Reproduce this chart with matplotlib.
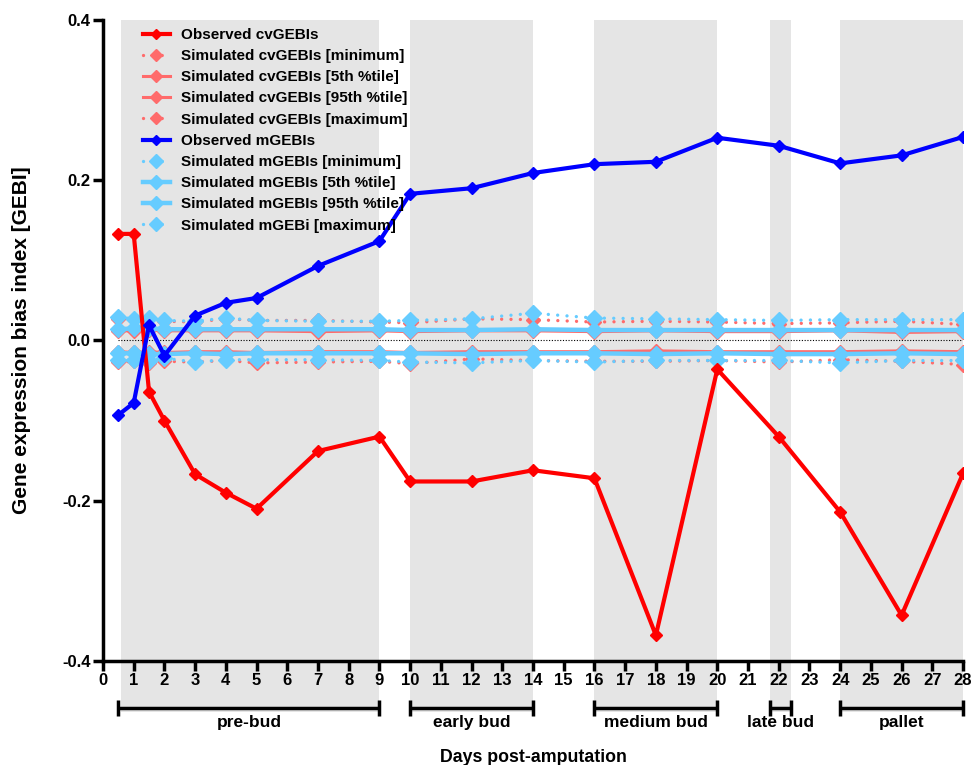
import matplotlib
matplotlib.use("Agg")
import matplotlib.pyplot as plt

plt.rcParams['font.family'] = ['Liberation Sans', 'DejaVu Sans']

days = [0.5, 1, 1.5, 2, 3, 4, 5, 7, 9, 10, 12, 14, 16, 18, 20, 22, 24, 26, 28]

obs_cv = [0.133, 0.133, -0.064, -0.100, -0.167, -0.190, -0.210, -0.138, -0.120,
          -0.176, -0.176, -0.162, -0.172, -0.368, -0.036, -0.120, -0.214, -0.343, -0.166]
cv_min = [-0.027, -0.026, -0.028, -0.026, -0.027, -0.025, -0.028, -0.027, -0.026,
          -0.029, -0.023, -0.025, -0.026, -0.026, -0.025, -0.027, -0.024, -0.026, -0.030]
cv_p5 = [-0.014, -0.015, -0.014, -0.015, -0.014, -0.014, -0.015, -0.014, -0.014,
         -0.015, -0.014, -0.014, -0.014, -0.013, -0.014, -0.014, -0.014, -0.013, -0.014]
cv_p95 = [0.012, 0.012, 0.013, 0.012, 0.012, 0.012, 0.012, 0.011, 0.012,
          0.011, 0.012, 0.012, 0.011, 0.012, 0.011, 0.011, 0.012, 0.010, 0.011]
cv_max = [0.027, 0.027, 0.028, 0.024, 0.023, 0.027, 0.025, 0.025, 0.023,
          0.022, 0.027, 0.026, 0.023, 0.024, 0.023, 0.021, 0.022, 0.024, 0.020]

obs_m = [-0.093, -0.078, 0.019, -0.019, 0.031, 0.047, 0.053, 0.093, 0.124,
         0.183, 0.190, 0.209, 0.220, 0.223, 0.253, 0.243, 0.221, 0.231, 0.254]
m_min = [-0.024, -0.025, -0.026, -0.022, -0.027, -0.024, -0.024, -0.024, -0.025,
         -0.027, -0.028, -0.025, -0.027, -0.025, -0.025, -0.025, -0.028, -0.025, -0.025]
m_p5 = [-0.016, -0.016, -0.017, -0.017, -0.016, -0.017, -0.016, -0.016, -0.016,
        -0.016, -0.017, -0.016, -0.016, -0.017, -0.016, -0.017, -0.017, -0.016, -0.017]
m_p95 = [0.014, 0.015, 0.015, 0.014, 0.014, 0.014, 0.014, 0.014, 0.014,
         0.013, 0.013, 0.014, 0.013, 0.013, 0.013, 0.013, 0.013, 0.013, 0.013]
m_max = [0.029, 0.027, 0.028, 0.025, 0.024, 0.028, 0.025, 0.024, 0.024,
         0.025, 0.027, 0.034, 0.028, 0.027, 0.026, 0.025, 0.026, 0.026, 0.026]

stages = ["pre-bud", "early bud", "medium bud", "late bud", "pallet"]
stage_start = [0.5, 10, 16, 21.7, 24]
stage_end = [9, 14, 20, 22.4, 28]
shade_start = [0.6, 10, 16, 21.7, 24]
shade_end = [9, 14, 20, 22.4, 28]

RED = "#FF0000"
LRED = "#FF6B6B"
BLUE = "#0000FF"
LBLUE = "#66CCFF"

fig = plt.figure(figsize=(9.77, 7.65), dpi=100)
ax = fig.add_axes([0.1054, 0.136, 0.8803, 0.8379])
ax.set_xlim(0, 28)
ax.set_ylim(-0.4, 0.4)

ybot = -0.464
for s, e in zip(shade_start, shade_end):
    ax.fill_between([s, e], [ybot, ybot], [0.4, 0.4], color="#E5E5E5",
                    lw=0, zorder=0, clip_on=False)

ax.plot([0.5, 28], [0, 0], color="black", lw=0.8, ls=(0, (1, 1.5)), zorder=1)

dot = (0, (0.01, 2.8))
def sim(y, color, ls, lw, ms, z):
    kw = dict(color=color, lw=lw, marker="D", ms=ms, mec=color, mfc=color, zorder=z)
    if ls == "dot":
        kw.update(ls=dot, dash_capstyle="round")
    else:
        kw.update(ls="-")
    l, = ax.plot(days, y, **kw)
    return l

h_obs_cv, = ax.plot(days, obs_cv, color=RED, lw=3, marker="D", ms=6, zorder=6)
h_cv_min = sim(cv_min, LRED, "dot", 2.4, 7, 2)
h_cv_p5 = sim(cv_p5, LRED, "-", 2.2, 7, 2)
h_cv_p95 = sim(cv_p95, LRED, "-", 2.2, 7, 2)
h_cv_max = sim(cv_max, LRED, "dot", 2.4, 7, 2)
h_obs_m, = ax.plot(days, obs_m, color=BLUE, lw=3, marker="D", ms=6, zorder=6)
h_m_min = sim(m_min, LBLUE, "dot", 2.4, 8, 3)
h_m_p5 = sim(m_p5, LBLUE, "-", 3.2, 8, 3)
h_m_p95 = sim(m_p95, LBLUE, "-", 3.2, 8, 3)
h_m_max = sim(m_max, LBLUE, "dot", 2.4, 8, 3)

labels = ["Observed cvGEBIs", "Simulated cvGEBIs [minimum]",
          "Simulated cvGEBIs [5th %tile]", "Simulated cvGEBIs [95th %tile]",
          "Simulated cvGEBIs [maximum]", "Observed mGEBIs",
          "Simulated mGEBIs [minimum]", "Simulated mGEBIs [5th %tile]",
          "Simulated mGEBIs [95th %tile]", "Simulated mGEBi [maximum]"]
hs = [h_obs_cv, h_cv_min, h_cv_p5, h_cv_p95, h_cv_max,
      h_obs_m, h_m_min, h_m_p5, h_m_p95, h_m_max]
leg = ax.legend(hs, labels, loc="upper left", bbox_to_anchor=(0.03, 1.009),
                frameon=False, handlelength=1.8, handletextpad=0.7,
                labelspacing=0.47, prop={"weight": "bold", "size": 11},
                markerscale=0.9)
leg.set_zorder(10)

for sp in ["top", "right"]:
    ax.spines[sp].set_visible(False)
for sp in ["left", "bottom"]:
    ax.spines[sp].set_linewidth(2.5)
    ax.spines[sp].set_zorder(8)

ax.set_yticks([-0.4, -0.2, 0.0, 0.2, 0.4])
ax.set_yticklabels(["-0.4", "-0.2", "0.0", "0.2", "0.4"])
ax.set_xticks(range(0, 29))
ax.tick_params(axis="both", direction="out", width=2.5, length=7,
               labelsize=12, pad=2)
for t in ax.get_xticklabels() + ax.get_yticklabels():
    t.set_fontweight("bold")

yb = -0.459
for name, s, e in zip(stages, stage_start, stage_end):
    ax.plot([s, e], [yb, yb], color="black", lw=2.5, clip_on=False,
            solid_capstyle="butt")
    for x in (s, e):
        ax.plot([x, x], [yb - 0.01, yb + 0.01], color="black", lw=2.5,
                clip_on=False, solid_capstyle="butt")
    ax.text((s + e) / 2, yb - 0.009, name, ha="center", va="top",
            fontsize=12.5, fontweight="bold", clip_on=False)

fig.text(533 / 977, 1 - 757 / 765, "Days post-amputation", ha="center",
         va="center", fontsize=12.8, fontweight="bold")
fig.text(22 / 977, 1 - 340 / 765, "Gene expression bias index [GEBI]",
         ha="center", va="center", rotation=90, fontsize=15, fontweight="bold")

fig.savefig("out.png", dpi=100)
